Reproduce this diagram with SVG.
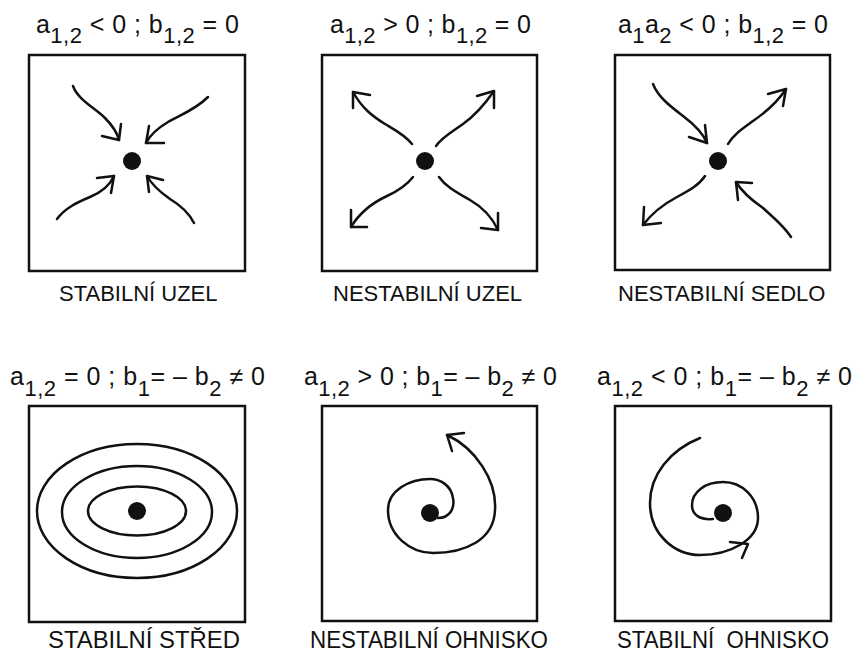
<svg xmlns="http://www.w3.org/2000/svg" width="854" height="655" viewBox="0 0 854 655">
<style>
text{font-family:"Liberation Sans",Arial,sans-serif;fill:#111}
.f{font-size:25px}
.s{font-size:22px}
.lbl{font-size:22px}
.lbl2{font-size:23px}
.box{fill:none;stroke:#111;stroke-width:2.5}
.ln{fill:none;stroke:#111;stroke-width:2.5;stroke-linecap:round;stroke-linejoin:round}
.dot{fill:#111}
</style>
<rect width="854" height="655" fill="#fff"/>

<g id="panel-stabilni-uzel">
<text class="f" x="36" y="33" textLength="203" lengthAdjust="spacing">a<tspan class="s" dy="10">1,2</tspan><tspan dy="-10"> &lt; 0 ; b</tspan><tspan class="s" dy="10">1,2</tspan><tspan dy="-10"> = 0</tspan></text>
<rect class="box" x="29" y="55" width="216" height="216"/>
<circle class="dot" cx="132" cy="161" r="9"/>
<text class="lbl" x="59" y="301">STABILNÍ UZEL</text>
</g>

<g id="panel-nestabilni-uzel">
<text class="f" x="330" y="33" textLength="201" lengthAdjust="spacing">a<tspan class="s" dy="10">1,2</tspan><tspan dy="-10"> &gt; 0 ; b</tspan><tspan class="s" dy="10">1,2</tspan><tspan dy="-10"> = 0</tspan></text>
<rect class="box" x="322" y="55" width="215" height="216"/>
<circle class="dot" cx="425" cy="161" r="9"/>
<text class="lbl" x="333" y="301">NESTABILNÍ UZEL</text>
</g>

<g id="panel-nestabilni-sedlo">
<text class="f" x="618" y="33" textLength="210" lengthAdjust="spacing">a<tspan class="s" dy="10">1</tspan><tspan dy="-10">a</tspan><tspan class="s" dy="10">2</tspan><tspan dy="-10"> &lt; 0 ; b</tspan><tspan class="s" dy="10">1,2</tspan><tspan dy="-10"> = 0</tspan></text>
<rect class="box" x="615" y="55" width="215" height="215"/>
<circle class="dot" cx="718" cy="161" r="9"/>
<text class="lbl" x="618" y="301">NESTABILNÍ SEDLO</text>
</g>

<g id="panel-stabilni-stred">
<text class="f" x="10" y="385" textLength="255" lengthAdjust="spacing">a<tspan class="s" dy="11">1,2</tspan><tspan dy="-11"> = 0 ; b</tspan><tspan class="s" dy="11">1</tspan><tspan dy="-11">= – b</tspan><tspan class="s" dy="11">2</tspan><tspan dy="-11"> ≠ 0</tspan></text>
<rect class="box" x="29" y="406" width="216" height="216"/>
<ellipse class="ln" cx="137" cy="511" rx="100" ry="67"/>
<ellipse class="ln" cx="137" cy="512" rx="75" ry="46"/>
<ellipse class="ln" cx="137" cy="511" rx="49" ry="24.5"/>
<circle class="dot" cx="137" cy="511" r="9"/>
<text class="lbl2" x="48" y="648" textLength="192" lengthAdjust="spacingAndGlyphs">STABILNÍ STŘED</text>
</g>

<g id="panel-nestabilni-ohnisko">
<text class="f" x="304" y="385" textLength="253" lengthAdjust="spacing">a<tspan class="s" dy="11">1,2</tspan><tspan dy="-11"> &gt; 0 ; b</tspan><tspan class="s" dy="11">1</tspan><tspan dy="-11">= – b</tspan><tspan class="s" dy="11">2</tspan><tspan dy="-11"> ≠ 0</tspan></text>
<rect class="box" x="322" y="406" width="215" height="215"/>
<circle class="dot" cx="430" cy="513" r="9"/>
<text class="lbl2" x="310" y="648" textLength="238" lengthAdjust="spacingAndGlyphs">NESTABILNÍ OHNISKO</text>
</g>

<g id="panel-stabilni-ohnisko">
<text class="f" x="597" y="385" textLength="255" lengthAdjust="spacing">a<tspan class="s" dy="11">1,2</tspan><tspan dy="-11"> &lt; 0 ; b</tspan><tspan class="s" dy="11">1</tspan><tspan dy="-11">= – b</tspan><tspan class="s" dy="11">2</tspan><tspan dy="-11"> ≠ 0</tspan></text>
<rect class="box" x="615" y="406" width="216" height="215"/>
<circle class="dot" cx="723" cy="513" r="9"/>
<text class="lbl2" x="617" y="648" textLength="212" lengthAdjust="spacingAndGlyphs" xml:space="preserve">STABILNÍ  OHNISKO</text>
</g>

<g id="connectors">
<path class="ln" d="M73,86 C78,100 95,108 105,118 C113,126 117,132 119,140"/>
<path class="ln" d="M102,136 L119,140 L121,124"/>
<path class="ln" d="M208,97 C195,110 180,115 168,122 C158,128 150,135 146,143"/>
<path class="ln" d="M149,126 L146,143 L164,143"/>
<path class="ln" d="M57,219 C65,208 78,202 90,197 C102,192 110,185 114,176"/>
<path class="ln" d="M97,178 L114,176 L111,193"/>
<path class="ln" d="M194,223 C189,213 180,205 170,199 C160,192 152,185 147,176"/>
<path class="ln" d="M163,180 L147,176 L149,192"/>
<path class="ln" d="M412,144 C405,135 395,130 385,124 C372,116 362,108 353,92"/>
<path class="ln" d="M353,108 L353,92 L370,95"/>
<path class="ln" d="M436,146 C442,137 452,132 463,124 C477,114 485,104 494,91"/>
<path class="ln" d="M477,96 L494,91 L494,108"/>
<path class="ln" d="M413,177 C406,186 398,191 387,196 C372,203 360,212 351,227"/>
<path class="ln" d="M351,210 L351,227 L367,227"/>
<path class="ln" d="M439,177 C446,187 458,193 470,200 C484,208 492,217 498,230"/>
<path class="ln" d="M481,228 L498,230 L498,213"/>
<path class="ln" d="M653,84 C658,97 670,106 683,116 C695,125 703,133 707,143"/>
<path class="ln" d="M689,137 L707,143 L705,125"/>
<path class="ln" d="M728,144 C733,135 742,129 753,121 C766,112 777,103 786,89"/>
<path class="ln" d="M768,94 L786,89 L783,106"/>
<path class="ln" d="M705,176 C699,185 690,190 677,197 C662,205 652,213 643,225"/>
<path class="ln" d="M644,207 L643,225 L661,223"/>
<path class="ln" d="M791,237 C784,226 775,219 763,208 C750,199 742,192 736,182"/>
<path class="ln" d="M752,183 L736,182 L738,200"/>
<path class="ln" d="M438,518 C450,518 455,508 453,498 C451,485 440,479 430,479 C410,479 388,490 388,510 C388,535 410,553 433,553 C465,553 494,540 495,510 C497,480 475,448 447,435"/>
<path class="ln" d="M452,451 L447,435 L464,433"/>
<path class="ln" d="M700,438 C670,450 650,475 650,503 C650,535 675,555 700,555 C730,555 758,540 758,518 C758,497 742,482 723,482 C705,482 692,492 692,505 C692,515 700,520 713,519"/>
<path class="ln" d="M730,542 L748,544 L742,558"/>
</g>
</svg>
